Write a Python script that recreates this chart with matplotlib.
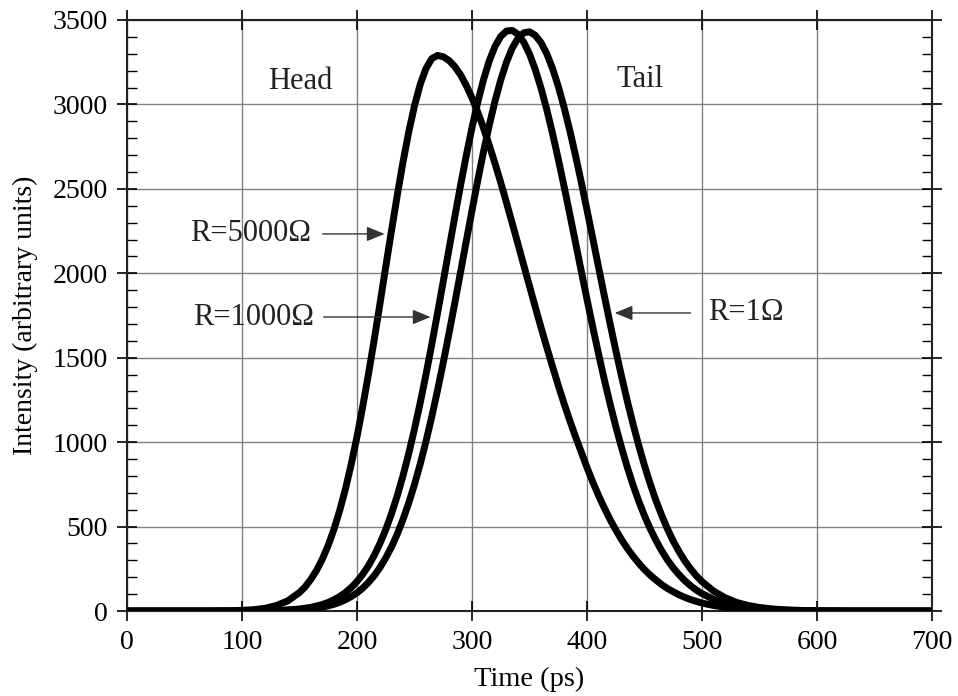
import numpy as np
import matplotlib
matplotlib.use("Agg")
import matplotlib.pyplot as plt
from matplotlib.ticker import MultipleLocator

plt.rcParams['font.family'] = ['Liberation Serif', 'DejaVu Serif']

# time axis (ps): coarse on the flat tails, 5 ps through the pulses
time_ps = np.concatenate([np.arange(0, 150, 10), np.arange(150, 505, 5), np.arange(510, 710, 10)])

# R = 5000 ohm
i_5000 = [0, 0, 0, 0, 0, 0, 0, 0, 1, 2,
          4, 8, 16, 33, 61,
          110, 144, 189, 243, 310, 390, 485, 597, 725, 871,
          1033, 1213, 1405, 1609, 1822, 2040, 2254, 2463, 2660, 2838,
          2993, 3120, 3213, 3271, 3290, 3282, 3260, 3224, 3175, 3112,
          3038, 2954, 2860, 2758, 2650, 2536, 2417, 2295, 2172, 2047,
          1923, 1800, 1679, 1561, 1447, 1336, 1229, 1128, 1032, 941,
          849, 764, 684, 611, 542, 480, 423, 371, 325, 283,
          245, 212, 183, 156, 133, 114, 96, 81, 68, 57, 47,
          33, 22, 15, 10, 6, 4, 2, 1, 0, 0, 0, 0, 0, 0, 0, 0, 0, 0, 0, 0]

# R = 1000 ohm
i_1000 = [0, 0, 0, 0, 0, 0, 0, 0, 0, 0,
          0, 1, 2, 3, 7,
          12, 17, 22, 30, 39, 51, 67, 86, 110, 139,
          175, 218, 269, 330, 401, 483, 577, 683, 802, 934,
          1079, 1235, 1402, 1579, 1764, 1953, 2144, 2334, 2520, 2698,
          2864, 3014, 3147, 3258, 3344, 3403, 3435,
          3438, 3415, 3368, 3298, 3206, 3096, 2969, 2828, 2676, 2516,
          2350, 2181, 2012, 1845, 1681, 1523, 1371, 1228, 1093, 968,
          852, 746, 650, 563, 486, 417, 356, 302, 255, 215,
          180, 150, 124, 103,
          69, 46, 30, 19, 12, 7, 5, 3, 2, 1, 0, 0, 0, 0, 0, 0, 0, 0, 0, 0]

# R = 1 ohm
i_1 = [0, 0, 0, 0, 0, 0, 0, 0, 0, 0,
       0, 0, 1, 2, 4,
       7, 10, 13, 18, 23, 31, 40, 52, 67, 86,
       108, 136, 170, 210, 258, 315, 380, 456, 543, 641,
       750, 872, 1006, 1151, 1307, 1472, 1645, 1824, 2007, 2191,
       2373, 2551, 2720, 2877, 3020, 3146, 3251, 3334, 3392, 3424,
       3430, 3409, 3366, 3300, 3213, 3107, 2983, 2846, 2697, 2539,
       2374, 2206, 2037, 1868, 1703, 1543, 1390, 1244, 1107, 979,
       860, 752, 653, 565, 485, 414, 352, 297, 250, 209, 174,
       118, 79, 51, 33, 21, 13, 8, 5, 3, 2, 1, 1, 0, 0, 0, 0, 0, 0, 0, 0]

fig = plt.figure(figsize=(9.58, 6.96), dpi=100)
ax = fig.add_axes([0.1326, 0.1221, 0.8403, 0.8492])

for y in (i_5000, i_1000, i_1):
    ax.plot(time_ps, y, color='black', lw=5.0, solid_capstyle='round', zorder=3)

ax.set_xlim(0, 700)
ax.set_ylim(0, 3500)
ax.xaxis.set_major_locator(MultipleLocator(100))
ax.yaxis.set_major_locator(MultipleLocator(500))
ax.yaxis.set_minor_locator(MultipleLocator(100))
ax.grid(True, which='major', color='#808080', lw=1.0)
ax.set_axisbelow(True)

ax.tick_params(which='major', direction='inout', length=14, width=1.2,
               top=True, right=True, labelsize=20, pad=7)
ax.tick_params(which='minor', direction='in', length=7, width=1.0,
               left=True, right=True)
for s in ax.spines.values():
    s.set_linewidth(1.5)
    s.set_color('#222222')

ax.set_xlabel('Time (ps)', fontsize=20.5, labelpad=8)
ax.set_ylabel('Intensity (arbitrary units)', fontsize=20, labelpad=10)

txt = dict(fontsize=22, color='#222222', va='center', ha='center')
ax.text(151, 3133, 'Head', **txt)
ax.text(446, 3145, 'Tail', **txt)

arrow = dict(arrowstyle='-|>,head_length=1.1,head_width=0.45', color='#333333',
             lw=1.0, shrinkA=0, shrinkB=0)
ax.text(107, 2233, 'R=5000Ω', **txt)
ax.annotate('', xy=(224, 2233), xytext=(170, 2233), arrowprops=arrow)
ax.text(110, 1741, 'R=1000Ω', **txt)
ax.annotate('', xy=(264, 1741), xytext=(171, 1741), arrowprops=arrow)
ax.text(538, 1765, 'R=1Ω', **txt)
ax.annotate('', xy=(424, 1765), xytext=(490, 1765), arrowprops=arrow)

fig.savefig('out.png', dpi=100)
